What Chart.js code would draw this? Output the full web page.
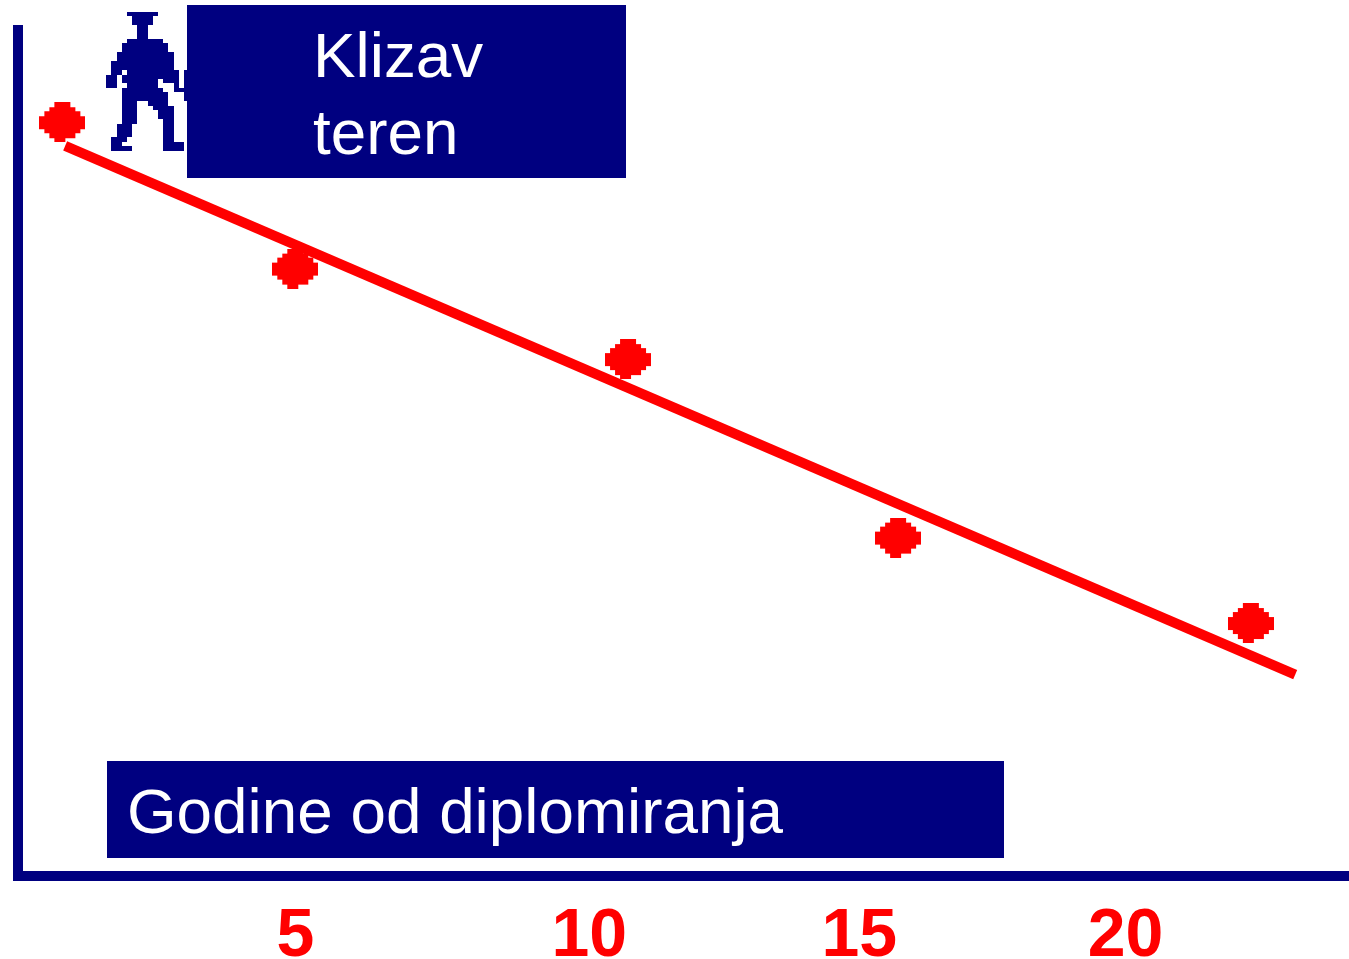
<!DOCTYPE html>
<html>
<head>
<meta charset="utf-8">
<title>Klizav teren</title>
<style>
  html, body { margin: 0; background: #fff; }
  canvas { display: block; }
</style>
<script src="https://cdn.jsdelivr.net/npm/chart.js@4"></script>
</head>
<body>
<canvas id="chart" width="1349" height="959"></canvas>
<script>
// values (y has no scale in the original, so 0-100 is arbitrary)
const pointYears = [0.8, 5.0, 11.0, 15.87, 22.23];
const pointValues = [89.1, 71.8, 61.1, 40.0, 29.9];
const trendYears = [0.85, 23.03];
const trendValues = [86.3, 23.8];

// the labels in the picture are not evenly spaced, so each one sits where it was drawn
const tickLabels = ["5", "10", "15", "20"];
const tickPlaces = [5.0, 10.3, 15.17, 19.97];

const NAVY = "#000080";
const RED = "#ff0000";

// blocky marker, one row per [height, inset left, width]
const markerRows = [
  [5, 15, 16], [4, 10, 26], [5, 5, 36], [13, 0, 46],
  [4, 5, 36], [5, 10, 26], [4, 15, 11],
];

function makeMarker() {
  const c = document.createElement("canvas");
  c.width = 46;
  c.height = 40;
  const g = c.getContext("2d");
  g.fillStyle = RED;
  let y = 0;
  for (const [h, x, w] of markerRows) {
    g.fillRect(x, y, w, h);
    y += h;
  }
  return c;
}

// little walking man, rows in 3x zoom units: [top, bottom, x0, x1, x0, x1...]
const figureRows = [
  [36, 48, 381, 474],
  [48, 75, 396, 459],
  [75, 117, 411, 444],
  [117, 129, 381, 489],
  [129, 156, 366, 504],
  [156, 183, 351, 522],
  [183, 210, 333, 522],
  [210, 225, 333, 366, 381, 537, 552, 561],
  [225, 237, 318, 351, 366, 537, 552, 561],
  [237, 249, 318, 351, 366, 474, 489, 537, 552, 561],
  [249, 264, 318, 351, 381, 474, 522, 537, 552, 561],
  [264, 276, 366, 489, 522, 561],
  [276, 303, 366, 504, 552, 561],
  [303, 318, 366, 411, 444, 504],
  [318, 330, 366, 411, 459, 522],
  [330, 357, 366, 411, 474, 522],
  [357, 372, 366, 411, 489, 522],
  [372, 411, 351, 396, 489, 522],
  [411, 426, 333, 381, 489, 522],
  [426, 438, 333, 366, 489, 552],
  [438, 453, 333, 396, 489, 552],
];

const labelFont = '63.8px "Liberation Sans", Arial, sans-serif';

const overlayPlugin = {
  id: "overlay",
  afterDatasetsDraw(chart) {
    const ctx = chart.ctx;
    ctx.save();
    ctx.fillStyle = NAVY;
    for (const row of figureRows) {
      for (let i = 2; i < row.length; i += 2) {
        ctx.fillRect(row[i] / 3, row[0] / 3, (row[i + 1] - row[i]) / 3, (row[1] - row[0]) / 3);
      }
    }
    ctx.fillRect(187, 5, 439, 173);
    ctx.fillRect(107, 761, 897, 97);

    ctx.fillStyle = "#fff";
    ctx.font = labelFont;
    ctx.textBaseline = "alphabetic";
    ctx.textAlign = "left";
    ctx.fillText("Klizav", 313, 77);
    ctx.fillText("teren", 313, 154);
    ctx.fillText("Godine od diplomiranja", 127, 833);
    ctx.restore();
  },
};

new Chart(document.getElementById("chart"), {
  type: "scatter",
  data: {
    datasets: [
      {
        label: "Klizav teren",
        data: pointYears.map((x, i) => ({ x: x, y: pointValues[i] })),
        pointStyle: makeMarker(),
        backgroundColor: RED,
        borderColor: RED,
        showLine: false,
      },
      {
        label: "Trend",
        data: trendYears.map((x, i) => ({ x: x, y: trendValues[i] })),
        showLine: true,
        borderColor: RED,
        borderWidth: 10,
        pointRadius: 0,
      },
    ],
  },
  options: {
    responsive: false,
    animation: false,
    // autoPadding off, otherwise the x axis stops short of the right edge
    layout: { autoPadding: false, padding: { top: 30, left: 0, right: 0, bottom: 0 } },
    plugins: {
      legend: { display: false },
      tooltip: { enabled: false },
    },
    scales: {
      x: {
        type: "linear",
        min: 0,
        max: 24,
        grid: { display: false },
        border: { display: true, color: NAVY, width: 10 },
        afterBuildTicks: (scale) => {
          scale.ticks = tickPlaces.map((v) => ({ value: v }));
        },
        afterFit: (scale) => {
          scale.height = 83;
        },
        ticks: {
          autoSkip: false,
          maxRotation: 0,
          padding: 12,
          color: RED,
          font: { family: '"Liberation Sans", Arial, sans-serif', size: 68, weight: "bold" },
          callback: (value, index) => tickLabels[index],
        },
      },
      y: {
        type: "linear",
        min: 0,
        max: 100,
        grid: { display: false },
        border: { display: true, color: NAVY, width: 10 },
        afterFit: (scale) => {
          scale.width = 18;
        },
        ticks: { display: false },
      },
    },
  },
  plugins: [overlayPlugin],
});
</script>
</body>
</html>
